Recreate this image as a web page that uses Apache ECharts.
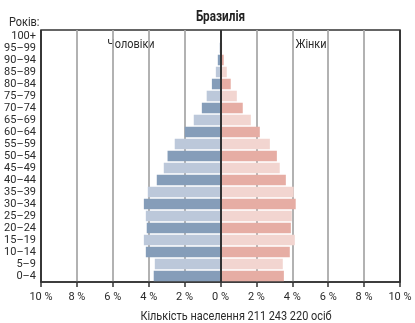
<!DOCTYPE html>
<html>
<head>
<meta charset="utf-8">
<script src="https://cdn.jsdelivr.net/npm/echarts@6/dist/echarts.min.js"></script>
<style>
  html, body { margin: 0; padding: 0; background: #fff; }
  #chart { width: 415px; height: 323px; }
</style>
</head>
<body>
<div id="chart"></div>
<script>
// вікові групи, знизу вгору
const ages = ['0–4', '5–9', '10–14', '15–19', '20–24', '25–29', '30–34', '35–39', '40–44',
  '45–49', '50–54', '55–59', '60–64', '65–69', '70–74', '75–79', '80–84', '85–89',
  '90–94', '95–99', '100+'];

// частка населення, %
const men = [3.72, 3.66, 4.16, 4.27, 4.11, 4.16, 4.27, 4.05, 3.55,
  3.16, 2.95, 2.55, 1.99, 1.49, 1.04, 0.77, 0.48, 0.26, 0.15, 0.05, 0.02];
const women = [3.53, 3.47, 3.86, 4.14, 3.92, 3.97, 4.19, 4.08, 3.64,
  3.30, 3.14, 2.75, 2.19, 1.69, 1.24, 0.91, 0.57, 0.35, 0.18, 0.09, 0.03];

const xTicks = [-10, -8, -6, -4, -2, 0, 2, 4, 6, 8, 10];

const font = "Roboto, 'Liberation Sans', sans-serif";
const textColor = '#2a2a2a';
const narrow = 0.84; // імітація вузького шрифту

const chart = echarts.init(document.getElementById('chart'), null, { renderer: 'canvas' });

// чергування темних і світлих смуг
const colorBy = (dark, light) => params => (params.dataIndex % 2 === 0 ? dark : light);

const label = (text, x, y, size, align, weight) => ({
  type: 'text', x: x, y: y, scaleX: narrow,
  style: {
    text: text,
    font: (weight || 'normal') + ' ' + size + 'px ' + font,
    fill: weight ? '#222' : textColor,
    align: align, verticalAlign: 'middle'
  }
});

chart.setOption({
  animation: false,
  textStyle: { fontFamily: font, color: textColor },
  graphic: [
    label('Бразилія', 220.5, 17, 14, 'center', 'bold'),
    label('Років:', 9, 23, 13, 'left'),
    label('Чоловіки', 131, 45, 13, 'center'),
    label('Жінки', 311, 45, 13, 'center'),
    label('Кількість населення 211 243 220 осіб', 236, 317, 13, 'center')
  ],
  grid: {
    left: 41, right: 15, top: 30, bottom: 41,
    show: true, borderColor: '#333', borderWidth: 1.5, backgroundColor: 'transparent'
  },
  xAxis: {
    type: 'value',
    min: xTicks[0],
    max: xTicks[xTicks.length - 1],
    interval: 2,
    axisLine: { show: true, lineStyle: { color: '#333', width: 1.5 } },
    axisTick: { show: true, length: 5, lineStyle: { color: '#333', width: 1.5 } },
    axisLabel: {
      fontFamily: font, fontSize: 11, color: textColor, margin: 10,
      formatter: v => Math.abs(v) + ' %'
    },
    splitLine: {
      show: true,
      lineStyle: {
        width: 1.8,
        color: xTicks.map(v => (v === 0 || Math.abs(v) === 10) ? '#333' : '#aaa')
      }
    }
  },
  yAxis: {
    type: 'category',
    data: ages,
    axisLine: { show: false },
    axisTick: { show: false },
    axisLabel: { interval: 0, fontFamily: font, fontSize: 11, color: textColor, margin: 5 }
  },
  series: [
    {
      name: 'Чоловіки',
      type: 'bar',
      data: men.map(v => -v),
      barCategoryGap: '12%',
      barGap: '-100%',
      itemStyle: { color: colorBy('#859db9', '#bcc8da') }
    },
    {
      name: 'Жінки',
      type: 'bar',
      data: women,
      barCategoryGap: '12%',
      barGap: '-100%',
      itemStyle: { color: colorBy('#e6ada4', '#f2d5d0') },
      markLine: {
        silent: true,
        symbol: 'none',
        label: { show: false },
        lineStyle: { color: '#333', width: 2, type: 'solid' },
        data: [{ xAxis: 0 }]
      }
    }
  ]
});
</script>
</body>
</html>
